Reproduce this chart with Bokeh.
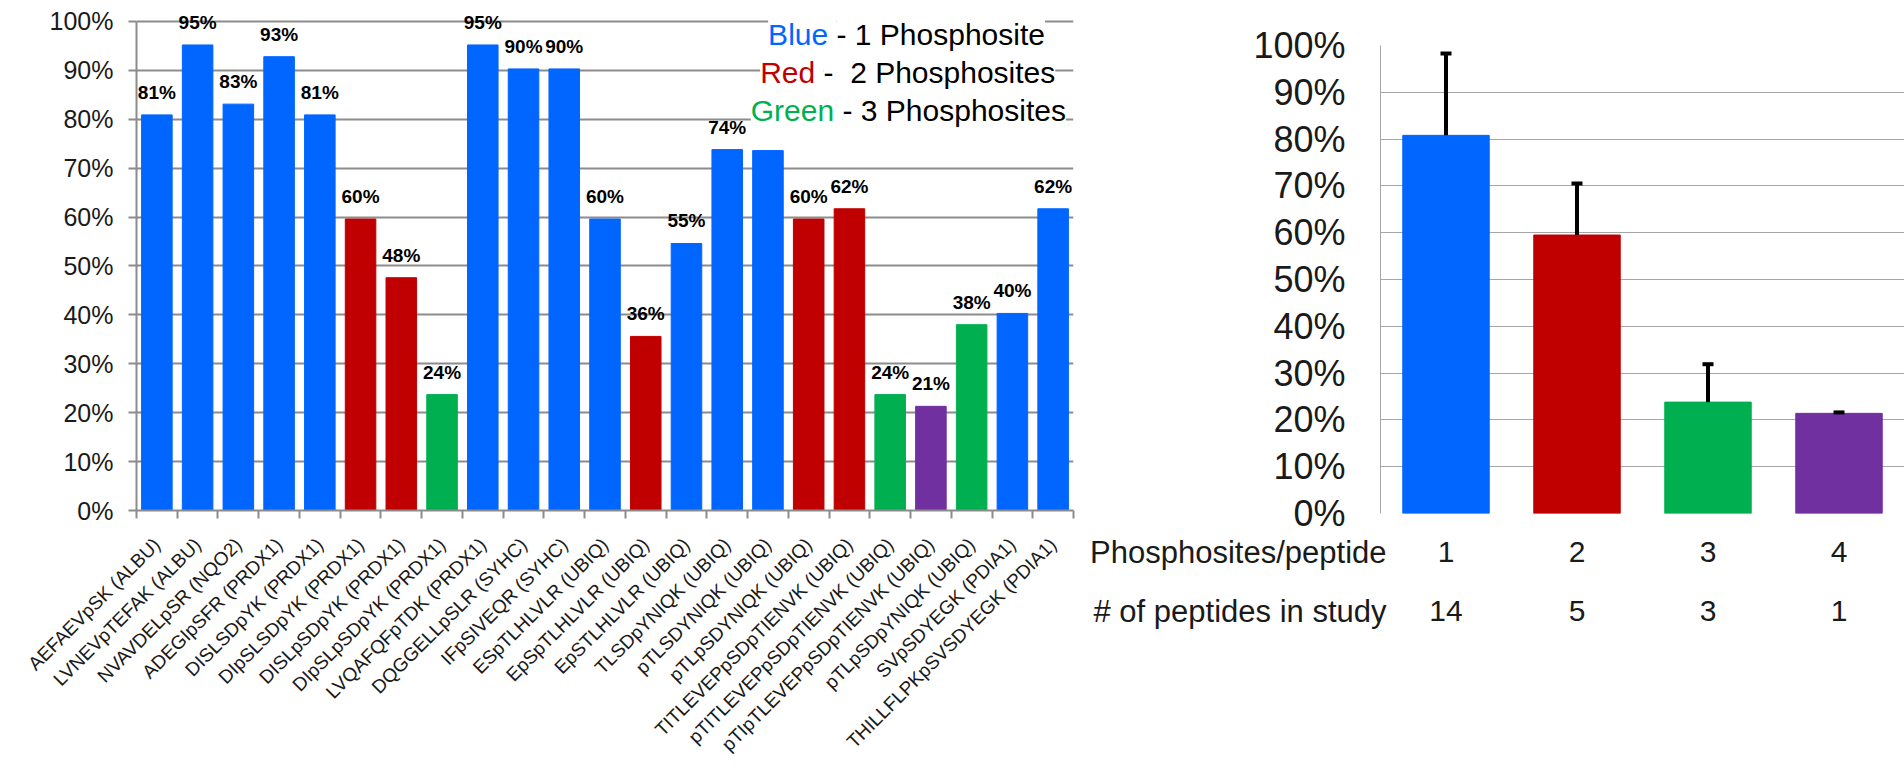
from math import pi

from bokeh.plotting import figure
from bokeh.layouts import row, column
from bokeh.models import (ColumnDataSource, Range1d, FactorRange, FixedTicker,
                          PrintfTickFormatter, LabelSet, Label, Whisker, TeeHead)
from bokeh.core.properties import value
from bokeh.embed import file_html
from bokeh.resources import INLINE

# --- data: recovery per phosphopeptide (left panel)
peptides = [
    "AEFAEVpSK (ALBU)", "LVNEVpTEFAK (ALBU)", "NVAVDELpSR (NQO2)",
    "ADEGIpSFR (PRDX1)", "DISLSDpYK (PRDX1)", "DIpSLSDpYK (PRDX1)",
    "DISLpSDpYK (PRDX1)", "DIpSLpSDpYK (PRDX1)", "LVQAFQFpTDK (PRDX1)",
    "DQGGELLpSLR (SYHC)", "IFpSIVEQR (SYHC)", "ESpTLHLVLR (UBIQ)",
    "EpSpTLHLVLR (UBIQ)", "EpSTLHLVLR (UBIQ)", "TLSDpYNIQK (UBIQ)",
    "pTLSDYNIQK (UBIQ)", "pTLpSDYNIQK (UBIQ)", "TITLEVEPpSDpTIENVK (UBIQ)",
    "pTITLEVEPpSDpTIENVK (UBIQ)", "pTIpTLEVEPpSDpTIENVK (UBIQ)",
    "pTLpSDpYNIQK (UBIQ)", "SVpSDYEGK (PDIA1)", "THILLFLPKpSVSDYEGK (PDIA1)",
]
recovery = [80.9, 95.2, 83.1, 92.8, 80.9, 59.6, 47.6, 23.7, 95.2, 90.3, 90.3,
            59.6, 35.6, 54.6, 73.8, 73.6, 59.6, 61.7, 23.7, 21.3, 38.0, 40.3, 61.7]
recovery_labels = ["81%", "95%", "83%", "93%", "81%", "60%", "48%", "24%", "95%",
                   "90%", "90%", "60%", "36%", "55%", "74%", "", "60%", "62%",
                   "24%", "21%", "38%", "40%", "62%"]
n_sites = [1, 1, 1, 1, 1, 2, 2, 3, 1, 1, 1, 1, 2, 1, 1, 1, 2, 2, 3, 4, 3, 1, 1]

# --- data: summary by number of phosphosites (right panel)
sites_per_peptide = ["1", "2", "3", "4"]
peptides_in_study = ["14", "5", "3", "1"]
mean_recovery = [80.8, 59.5, 23.8, 21.4]
recovery_err = [17.5, 11.0, 8.1, 0.2]
row_titles = ["Phosphosites/peptide", "# of peptides in study"]

site_colors = {1: "#0066FF", 2: "#C00000", 3: "#00B050", 4: "#7030A0"}

FONT = "Liberation Sans"
TXT = "#1a1a1a"
NBSP = "\u00a0"


# ---------------- left: per peptide ----------------
left_src = ColumnDataSource(data={
    'x': list(range(len(peptides))),
    'value': recovery,
    'label': recovery_labels,
    'color': [site_colors[n] for n in n_sites],
})

left = figure(width=1085, height=779, x_range=Range1d(-0.5, len(peptides) - 0.5),
              y_range=Range1d(0, 102.45), output_backend="svg", toolbar_location=None,
              min_border_left=136, min_border_right=12, min_border_top=9,
              min_border_bottom=269)
left.outline_line_color = None
left.xgrid.grid_line_color = None
left.ygrid.grid_line_color = "#8c8c8c"
left.ygrid.grid_line_width = 2

left.vbar(x='x', top='value', width=0.75, color='color', source=left_src)

# y axis
left.yaxis.ticker = FixedTicker(ticks=list(range(0, 101, 10)))
left.yaxis.formatter = PrintfTickFormatter(format="%d%%")
left.yaxis.bounds = (0, 100)
left.yaxis.axis_line_color = "#8c8c8c"
left.yaxis.axis_line_width = 2
left.yaxis.major_tick_line_color = "#8c8c8c"
left.yaxis.major_tick_line_width = 2
left.yaxis.major_tick_out = 8
left.yaxis.major_tick_in = 0
left.yaxis.minor_tick_line_color = None
left.yaxis.major_label_text_font = FONT
left.yaxis.major_label_text_font_size = "25px"
left.yaxis.major_label_text_color = TXT
left.yaxis.major_label_standoff = 15

# x axis: peptide names at the bars, tick marks between the bars
left.xaxis.ticker = FixedTicker(ticks=list(range(len(peptides))),
                                minor_ticks=[i - 0.5 for i in range(len(peptides) + 1)])
left.xaxis.major_label_overrides = {i: name for i, name in enumerate(peptides)}
left.xaxis.major_label_orientation = pi / 4
left.xaxis.major_label_text_font = FONT
left.xaxis.major_label_text_font_size = "19px"
left.xaxis.major_label_text_color = TXT
left.xaxis.major_label_standoff = 23
left.xaxis.major_tick_line_color = None
left.xaxis.major_tick_out = 0
left.xaxis.major_tick_in = 0
left.xaxis.axis_line_color = "#8c8c8c"
left.xaxis.axis_line_width = 2
left.xaxis.minor_tick_line_color = "#8c8c8c"
left.xaxis.minor_tick_line_width = 2
left.xaxis.minor_tick_out = 8
left.xaxis.minor_tick_in = 0

# value labels above bars
left.add_layout(LabelSet(x='x', y='value', text='label', source=left_src,
                         y_offset=16, text_align='center', text_baseline='alphabetic',
                         text_font=value(FONT), text_font_size="19px",
                         text_font_style="bold", text_color="black"))

# colour key (top right)
key = [
    ("Blue", "- 1 Phosphosite", site_colors[1], 700, 476),
    ("Red", "-" + NBSP + " 2 Phosphosites", site_colors[2], 687, 438),
    ("Green", "- 3 Phosphosites", site_colors[3], 706, 400),
]
for word, rest, col, kx, ky in key:
    left.add_layout(Label(x=kx, y=ky, x_units='screen', y_units='screen',
                          text=word + NBSP, text_align='right',
                          text_baseline='alphabetic', text_font=FONT,
                          text_font_size="30px", text_color=col,
                          background_fill_color="white"))
    left.add_layout(Label(x=kx, y=ky, x_units='screen', y_units='screen', text=rest,
                          text_align='left', text_baseline='alphabetic',
                          text_font=FONT, text_font_size="30px", text_color="black",
                          background_fill_color="white"))


# ---------------- right: summary ----------------
R_BORDER = 295
R_FRAME_W = 524

right_src = ColumnDataSource(data={
    'sites': sites_per_peptide,
    'mean': mean_recovery,
    'upper': [m + e for m, e in zip(mean_recovery, recovery_err)],
    'color': [site_colors[int(s)] for s in sites_per_peptide],
})

right = figure(width=R_BORDER + R_FRAME_W, height=533,
               x_range=FactorRange(*sites_per_peptide),
               y_range=Range1d(0, 100), output_backend="svg", toolbar_location=None,
               x_axis_location=None,
               min_border_left=R_BORDER, min_border_right=0, min_border_top=45,
               min_border_bottom=20)
right.outline_line_color = None
right.xgrid.grid_line_color = None
right.ygrid.grid_line_color = "#a6a6a6"
right.ygrid.grid_line_width = 1

right.vbar(x='sites', top='mean', width=0.66, color='color', source=right_src)

right.add_layout(Whisker(base='sites', lower='mean', upper='upper', source=right_src,
                         line_color="black", line_width=4, lower_head=None,
                         upper_head=TeeHead(size=11, line_color="black", line_width=4),
                         level='overlay'))

right.yaxis.ticker = FixedTicker(ticks=list(range(0, 101, 10)))
right.yaxis.formatter = PrintfTickFormatter(format="%d%%")
right.yaxis.axis_line_color = "#a6a6a6"
right.yaxis.major_tick_line_color = None
right.yaxis.minor_tick_line_color = None
right.yaxis.major_label_text_font = FONT
right.yaxis.major_label_text_font_size = "36px"
right.yaxis.major_label_text_color = TXT
right.yaxis.major_label_standoff = 29

# table under the summary bars: columns share the bar categories,
# rows are 1 (phosphosites per peptide) and 0 (number of peptides)
cell_src = ColumnDataSource(data={
    'site': sites_per_peptide * 2,
    'row': [1] * len(sites_per_peptide) + [0] * len(sites_per_peptide),
    'text': sites_per_peptide + peptides_in_study,
})

table = figure(width=R_BORDER + R_FRAME_W, height=246, x_range=right.x_range,
               y_range=Range1d(-2.856, 1.314), output_backend="svg",
               toolbar_location=None, x_axis_location=None,
               min_border_left=R_BORDER, min_border_right=0, min_border_top=0,
               min_border_bottom=0)
table.outline_line_color = None
table.grid.visible = False
table.text(x='site', y='row', text='text', source=cell_src, text_align='center',
           text_baseline='middle', text_font=value(FONT), text_font_size="30px",
           text_color=TXT)
table.yaxis.ticker = FixedTicker(ticks=[0, 1])
table.yaxis.major_label_overrides = {1: row_titles[0], 0: row_titles[1]}
table.yaxis.axis_line_color = None
table.yaxis.major_tick_line_color = None
table.yaxis.minor_tick_line_color = None
table.yaxis.major_label_standoff = -12
table.yaxis.major_label_text_font = FONT
table.yaxis.major_label_text_font_size = "31px"
table.yaxis.major_label_text_color = TXT

layout = row(left, column(right, table))
open("out.html", "w").write(file_html(layout, INLINE))
